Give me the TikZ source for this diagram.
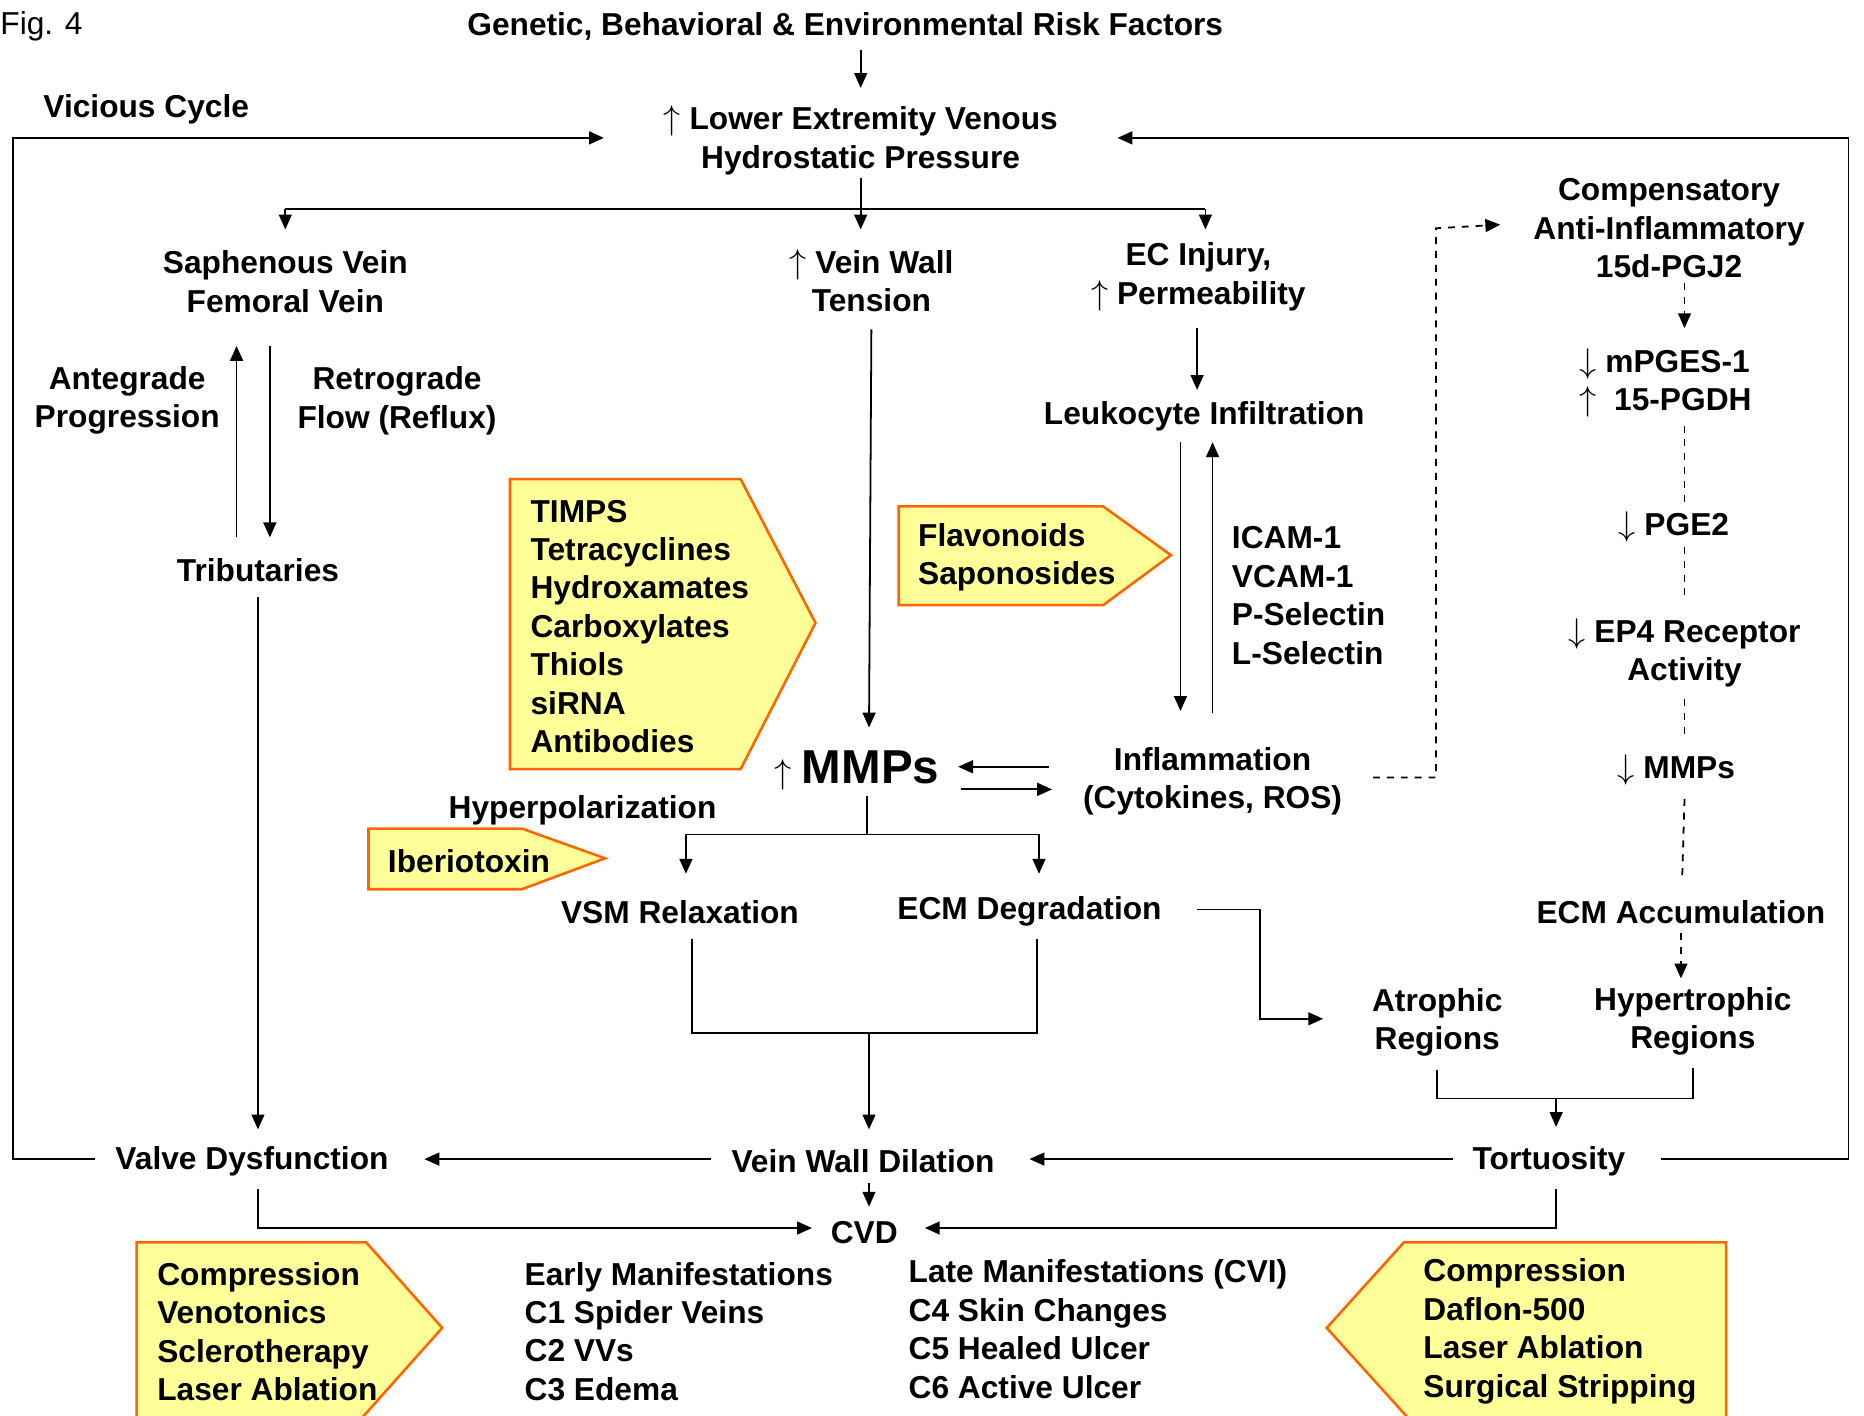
\documentclass[tikz,border=0pt]{standalone}
\usepackage{fontspec}
\setmainfont{Liberation Sans}
\usetikzlibrary{arrows.meta}
\definecolor{yfill}{HTML}{FFFF99}
\definecolor{orng}{HTML}{FF6600}
\newcommand{\upar}{\mbox{\fontsize{17}{19}\selectfont$\uparrow$}}
\newcommand{\dnar}{\mbox{\fontsize{17}{19}\selectfont$\downarrow$}}
\begin{document}
\begin{tikzpicture}[x=0.6pt,y=-0.6pt,
  t/.style={font=\bfseries\fontsize{16}{19.4}\selectfont, align=center, inner sep=0pt},
  tl/.style={t, align=left},
  tip/.style={-{Triangle[length=7.5pt,width=6.5pt]}},
  ln/.style={line width=0.9pt},
  arr/.style={ln, tip},
  dsh/.style={line width=0.9pt, dash pattern=on 3.5pt off 3.5pt},
  darr/.style={dsh, tip},
  pent/.style={fill=yfill, draw=orng, line width=1.3pt}]
\useasboundingbox (0,0) rectangle (1568,1191);

% yellow pentagon boxes
\draw[pent] (429,403) -- (623,403) -- (686,524) -- (623,647) -- (429,647) -- cycle;
\draw[pent] (756,426) -- (928,426) -- (985,467) -- (928,509) -- (756,509) -- cycle;
\draw[pent] (310,697) -- (439,697) -- (509,722) -- (439,748) -- (310,748) -- cycle;
\draw[pent] (115,1200) -- (115,1045) -- (308,1045) -- (372,1117) -- (298,1200) -- cycle;
\draw[pent] (1452,1200) -- (1452,1045) -- (1181,1045) -- (1116,1117) -- (1191,1200) -- cycle;

% text nodes
\node[t, font=\fontsize{16}{19.4}\selectfont, anchor=west] (fig) at (0,22) {Fig. 4};
\node[t] (gen) at (711,22) {Genetic, Behavioral \& Environmental Risk Factors};
\node[t] (vc) at (123,92) {Vicious Cycle};
\node[t] (hp) at (724,118) {\upar\ Lower Extremity Venous\\Hydrostatic Pressure};
\node[t] (sv) at (240,237) {Saphenous Vein\\Femoral Vein};
\node[t] (vwt) at (733,236) {\upar\ Vein Wall\\Tension};
\node[t] (ec) at (1008,233) {EC Injury,\\\upar\ Permeability};
\node[t] (comp) at (1404,192) {Compensatory\\Anti-Inflammatory\\15d-PGJ2};
\node[tl] (mpges) at (1401,322) {\dnar\ mPGES-1\\\upar\ \ 15-PGDH};
\node[t] (pge) at (1408,443) {\dnar\ PGE2};
\node[t] (ep4) at (1417,549) {\dnar\ EP4 Receptor\\Activity};
\node[t] (mmpd) at (1410,648) {\dnar\ MMPs};
\node[t] (ecma) at (1414,767) {ECM Accumulation};
\node[t] (hyp) at (1424,859) {Hypertrophic\\Regions};
\node[t] (atr) at (1209,860) {Atrophic\\Regions};
\node[t] (tort) at (1303,977) {Tortuosity};
\node[t] (vwd) at (726,977) {Vein Wall Dilation};
\node[t] (valve) at (212,977) {Valve Dysfunction};
\node[t] (cvd) at (727,1037) {CVD};
\node[tl, anchor=west] (early) at (441,1120) {Early Manifestations\\C1 Spider Veins\\C2 VVs\\C3 Edema};
\node[tl, anchor=west] (late) at (764,1118) {Late Manifestations (CVI)\\C4 Skin Changes\\C5 Healed Ulcer\\C6 Active Ulcer};
\node[t] (trib) at (217,480) {Tributaries};
\node[t] (ante) at (107,337) {Antegrade\\Progression};
\node[t] (retro) at (334,337) {Retrograde\\Flow (Reflux)};
\node[t] (mmp) at (721,648) {\upar\hspace{5pt}{\fontsize{24}{28}\selectfont MMPs}};
\node[t] (infl) at (1020,657) {Inflammation\\(Cytokines, ROS)};
\node[t] (leuk) at (1013,350) {Leukocyte Infiltration};
\node[tl, anchor=west] (icam) at (1036,501) {ICAM-1\\VCAM-1\\P-Selectin\\L-Selectin};
\node[t] (hyper) at (490,682) {Hyperpolarization};
\node[t] (vsm) at (572,767) {VSM Relaxation};
\node[t] (ecmd) at (866,767) {ECM Degradation};
\node[tl, anchor=west] (timps) at (446,527) {TIMPS\\Tetracyclines\\Hydroxamates\\Carboxylates\\Thiols\\siRNA\\Antibodies};
\node[tl, anchor=west] (flav) at (772,469) {Flavonoids\\Saponosides};
\node[tl, anchor=west] (iber) at (326,724) {Iberiotoxin};
\node[tl, anchor=west] (trtl) at (132,1120) {Compression\\Venotonics\\Sclerotherapy\\Laser Ablation};
\node[tl, anchor=west] (trtr) at (1197,1120) {Compression\\Daflon-500\\Laser Ablation\\Surgical Stripping};

% junction coordinates
\coordinate (jtop) at (724,176);
\coordinate (jec) at (1014,176);
\coordinate (jmmp) at (729,702);
\coordinate (jvsm) at (731,869);
\coordinate (jreg) at (1309,924);
\coordinate (jdash) at (1208,654);
\coordinate (jecm) at (1060,765);
\coordinate (lcorner) at (11,116);
\coordinate (rcorner) at (1555,116);

% main flow
\draw[arr] (hp |- 0,42) -- (hp |- 0,74);
\draw[arr] (hp |- 0,150) -- (hp |- 0,193);
\draw[ln] (sv |- jtop) -- (jec);
\draw[arr] (sv |- jtop) -- (sv |- 0,193);
\draw[arr] (jec) -- (jec |- 0,193);

% saphenous / tributaries
\draw[arr] (199,452) -- (199,291);
\draw[arr] (227,291) -- (227,452);
\draw[arr] (trib |- 0,502) -- (trib |- 0,950);

% vein wall tension -> MMPs
\draw[arr] (733,277) -- (731,612);

% EC injury -> leukocyte -> inflammation
\draw[arr] (1007,276) -- (1007,328);
\draw[arr] (993,372) -- (993,598);
\draw[arr] (1020,600) -- (1020,372);

% MMPs <-> inflammation
\draw[arr] (882,645) -- (806,645);
\draw[arr] (808,664) -- (885,664);

% compensatory pathway (dashed)
\draw[darr] (1155,654) -- (jdash) -- (jdash |- comp) -- (1262,189);
\draw[darr] (1417,238) -- (1417,276);
\draw[dsh] (1417,358) -- (1417,425);
\draw[dsh] (1417,460) -- (1417,505);
\draw[dsh] (1417,588) -- (1417,618);
\draw[dsh] (1417,672) -- (1415,740);
\draw[darr] (ecma |- 0,785) -- (ecma |- 0,823);

% MMPs -> VSM relaxation / ECM degradation
\draw[ln] (729,670) -- (jmmp);
\draw[arr] (jmmp) -| (577,735);
\draw[arr] (jmmp) -| (874,735);

% -> vein wall dilation
\draw[ln] (582,790) |- (jvsm) -| (872,790);
\draw[arr] (jvsm) -- (731,950);

% ECM degradation -> atrophic regions
\draw[arr] (1007,765) -- (jecm) |- (1113,857);

% atrophic / hypertrophic -> tortuosity
\draw[ln] (atr |- 0,900) |- (jreg) -| (hyp |- 0,898);
\draw[arr] (jreg) -- (jreg |- 0,948);

% tortuosity -> vein wall dilation -> valve dysfunction
\draw[arr] (1222,975) -- (866,975);
\draw[arr] (598,975) -- (357,975);

% vicious cycle
\draw[arr] (80,975) -| (lcorner) -- (508,116);
\draw[arr] (1397,975) -| (rcorner) -- (940,116);

% -> CVD
\draw[arr] (731,995) -- (731,1015);
\draw[arr] (217,1000) |- (683,1033);
\draw[arr] (jreg |- 0,1000) |- (778,1033);
\end{tikzpicture}
\end{document}
